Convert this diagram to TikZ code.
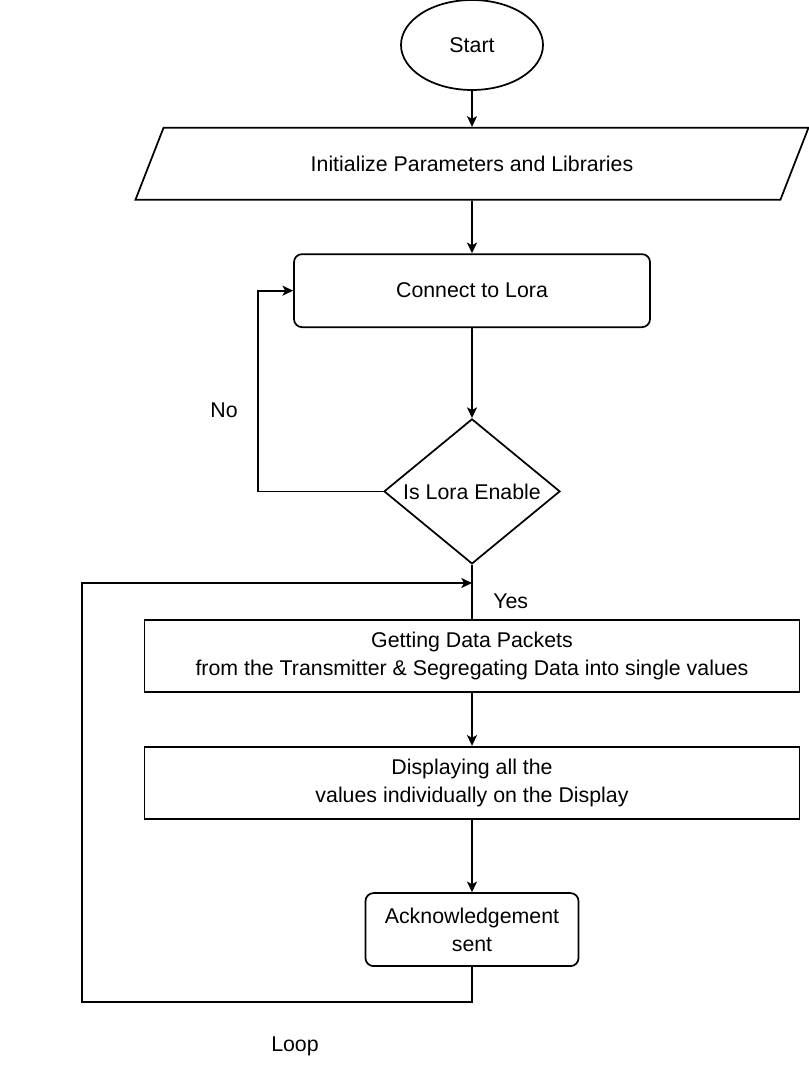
\documentclass[tikz,border=0pt]{standalone}
\usepackage{fontspec}
\setmainfont{Liberation Sans}
\usetikzlibrary{arrows.meta, positioning, shapes.geometric}
\newcommand{\flowfont}{\fontsize{16}{21}\selectfont}
\tikzset{
  terminal/.style={ellipse, draw, line width=1.3pt, minimum width=106.5pt,
                   minimum height=67.5pt, inner sep=0pt},
  io/.style={trapezium, trapezium left angle=68.7, trapezium right angle=111.3,
             trapezium stretches body, draw, line width=1.3pt,
             minimum width=504.75pt, text height=12pt, text depth=0pt,
             inner ysep=21pt},
  process/.style={rectangle, rounded corners=6pt, draw, line width=1.3pt,
                  minimum width=267pt, minimum height=54.75pt, align=center},
  wide/.style={rectangle, draw, line width=1.3pt, minimum width=491.25pt,
               minimum height=54pt, align=center},
  decision/.style={diamond, draw, line width=1.3pt, minimum width=132pt,
                   minimum height=108.75pt, inner sep=0pt},
  arr/.style={-{Stealth[length=8pt, width=7.5pt, inset=2pt]}, line width=1.3pt},
  line/.style={line width=1.3pt},
}

\begin{document}
\begin{tikzpicture}[x=0.75pt, y=-0.75pt, every node/.style={font=\flowfont}]
  \useasboundingbox (0,0) rectangle (809,1091);
  \node[terminal]                      (start)   at (472,45) {Start};
  \node[io, below=27pt of start]       (init)    {Initialize Parameters and Libraries};
  \node[process, below=39.5pt of init] (connect) {Connect to Lora};
  \node[decision, below=67.5pt of connect,
        label=center:{Is Lora Enable}] (check)   {};
  \node[wide, below=41pt of check]     (data)    {Getting Data Packets\\from the Transmitter \& Segregating Data into single values};
  \node[wide, below=39.5pt of data]    (disp)    {Displaying all the\\values individually on the Display};
  \node[process, minimum width=159.75pt,
        below=54.5pt of disp]          (ack)     {Acknowledgement\\sent};
  \node (no)   at (224,410)  {No};
  \node (loop) at (295,1046) {Loop};

  \coordinate (nobend)   at ([xshift=-93.75pt]check.west);
  \coordinate (loopend)  at ([yshift=-26.25pt]ack.south);
  \coordinate (loopbend) at (82,583);
  \coordinate (loopin)   at (472,583);

  \draw[arr]  (start)   -- (init);
  \draw[arr]  (init)    -- (connect);
  \draw[arr]  (connect) -- (check);
  \draw[arr]  (check.west) -- (nobend) |- (connect.west);
  \draw[line] (check)   -- node[pos=0.67, right=12pt]{Yes} (data);
  \draw[arr]  (data)    -- (disp);
  \draw[arr]  (disp)    -- (ack);
  \draw[arr]  (ack)     -- (loopend) -| (loopbend) -- (loopin);
\end{tikzpicture}
\end{document}
